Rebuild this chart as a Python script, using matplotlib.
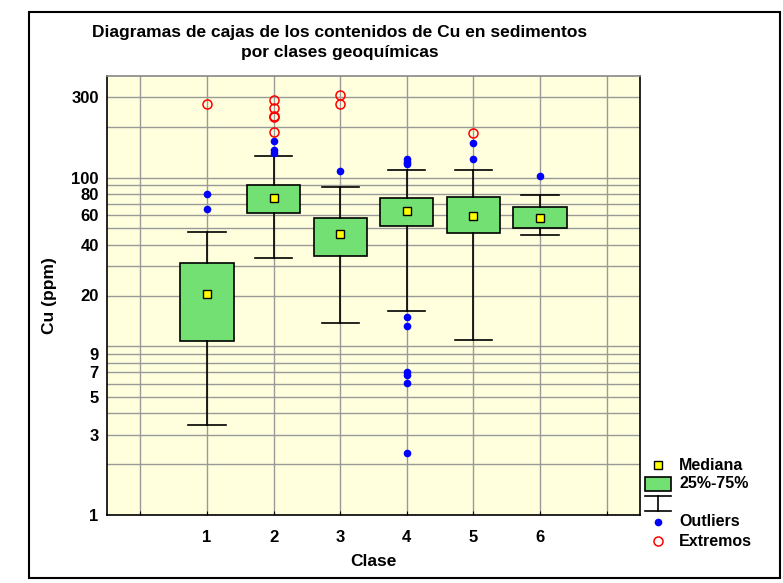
import matplotlib
matplotlib.use('Agg')
import matplotlib.pyplot as plt
from matplotlib.lines import Line2D
from matplotlib.patches import Rectangle
import numpy as np

plt.rcParams['font.family'] = ['Liberation Sans', 'DejaVu Sans']
plt.rcParams['font.weight'] = 'bold'

# datos (Cu en ppm)
clases = [1, 2, 3, 4, 5, 6]
q1 = [10.8, 61.7, 34.3, 51.4, 46.7, 50.0]
mediana = [20.4, 75.4, 46.3, 63.7, 59.5, 57.6]
q3 = [31.2, 90.9, 57.9, 75.8, 76.8, 67.3]
bigote_inf = [3.42, 33.4, 13.7, 16.2, 10.9, 45.9]
bigote_sup = [47.6, 135, 88.1, 111.5, 111.5, 78.5]

outliers_x = [1, 1, 2, 2, 2, 3, 4, 4, 4, 4, 4, 4, 4, 4, 4, 5, 5, 6]
outliers_y = [79.6, 65.5, 165, 145, 139, 109, 129, 124, 120,
              14.9, 13.2, 7.0, 6.75, 6.1, 2.34, 160, 129, 102]

extremos_x = [1, 2, 2, 2, 2, 2, 3, 3, 5]
extremos_y = [272, 288, 257, 233, 228, 186, 307, 272, 184]

yticks = [1, 3, 5, 7, 9, 20, 40, 60, 80, 100, 300]
ygrid = [2, 4, 6, 8, 10, 30, 50, 70, 90, 200]

W, H = 783, 583
fig = plt.figure(figsize=(W / 100, H / 100), dpi=100)
ax = fig.add_axes([107 / W, 1 - 515 / H, (640 - 107) / W, (515 - 76) / H])
ax.set_facecolor('#ffffdd')

stats = []
for i in range(len(clases)):
    stats.append(dict(med=mediana[i], q1=q1[i], q3=q3[i],
                      whislo=bigote_inf[i], whishi=bigote_sup[i], fliers=[]))

ax.bxp(stats, positions=clases, widths=0.8, showfliers=False, patch_artist=True,
       boxprops=dict(facecolor='#72e072', edgecolor='black', linewidth=1.2),
       whiskerprops=dict(color='black', linewidth=1.2),
       capprops=dict(color='black', linewidth=1.2),
       capwidths=0.56,
       medianprops=dict(visible=False), zorder=3)

ax.plot(clases, mediana, 's', color='#ffff00', markeredgecolor='black',
        markersize=6, zorder=5)
ax.plot(outliers_x, outliers_y, 'o', color='#0000ff', markersize=5.5,
        markeredgewidth=0, zorder=5)
ax.plot(extremos_x, extremos_y, 'o', markerfacecolor='none',
        markeredgecolor='#ff0000', markersize=6.5, markeredgewidth=1.1, zorder=5)

ax.set_yscale('log')
ax.set_ylim(1, 400)
ax.set_xlim(-0.5, 7.5)

ax.set_yticks(yticks)
ax.set_yticklabels([str(v) for v in yticks], fontsize=12, fontweight='bold')
ax.set_yticks(ygrid, minor=True)
ax.yaxis.set_minor_formatter(plt.NullFormatter())
ax.set_xticks(range(0, 8))
ax.set_xticklabels([''] + [str(c) for c in clases] + [''], fontsize=12,
                   fontweight='bold')

ax.grid(True, which='both', color='#999999', linewidth=1, zorder=0)
ax.set_axisbelow(True)
ax.tick_params(axis='y', which='both', length=0, pad=6)
ax.tick_params(axis='x', direction='in', length=3, pad=11)
for s in ax.spines.values():
    s.set_color('black')
    s.set_linewidth(1.2)
ax.spines['top'].set_color('#888888')

ax.set_xlabel('Clase', fontsize=12.5, fontweight='bold', labelpad=6)
ax.set_ylabel('Cu (ppm)', fontsize=12.5, fontweight='bold', labelpad=10)

fig.text(340 / W, 1 - 33 / H, 'Diagramas de cajas de los contenidos de Cu en sedimentos',
         ha='center', va='center', fontsize=12.5, fontweight='bold')
fig.text(340 / W, 1 - 53 / H, 'por clases geoquímicas',
         ha='center', va='center', fontsize=12.5, fontweight='bold')


def px(x, y):
    return x / W, 1 - y / H


# leyenda
tf = fig.transFigure
fig.add_artist(Line2D(*zip(px(658, 465)), marker='s', color='#ffff00',
                      markeredgecolor='black', markersize=6, transform=tf))
x0, y0 = px(645, 491)
fig.add_artist(Rectangle((x0, y0), 26 / W, 14 / H, facecolor='#72e072',
                         edgecolor='black', linewidth=1.2, transform=tf))
for seg in [((645, 496), (671, 496)), ((658, 496), (658, 511)), ((645, 511), (671, 511))]:
    a, b = px(*seg[0]), px(*seg[1])
    fig.add_artist(Line2D([a[0], b[0]], [a[1], b[1]], color='black',
                          linewidth=1.2, transform=tf))
fig.add_artist(Line2D(*zip(px(658, 522)), marker='o', color='#0000ff',
                      markeredgewidth=0, markersize=5.5, transform=tf))
fig.add_artist(Line2D(*zip(px(658, 541)), marker='o', markerfacecolor='none',
                      markeredgecolor='#ff0000', markersize=6.5,
                      markeredgewidth=1.1, transform=tf))
for txt, yy in [('Mediana', 465), ('25%-75%', 484), ('Outliers', 522), ('Extremos', 541)]:
    fig.text(679 / W, 1 - yy / H, txt, ha='left', va='center', fontsize=11.5,
             fontweight='bold')

# marco exterior
fx0, fy0 = px(29, 578)
fig.add_artist(Rectangle((fx0, fy0), (780 - 29) / W, (578 - 12) / H,
                         fill=False, edgecolor='black', linewidth=1.5, transform=tf))

fig.savefig('out.png', dpi=100)
